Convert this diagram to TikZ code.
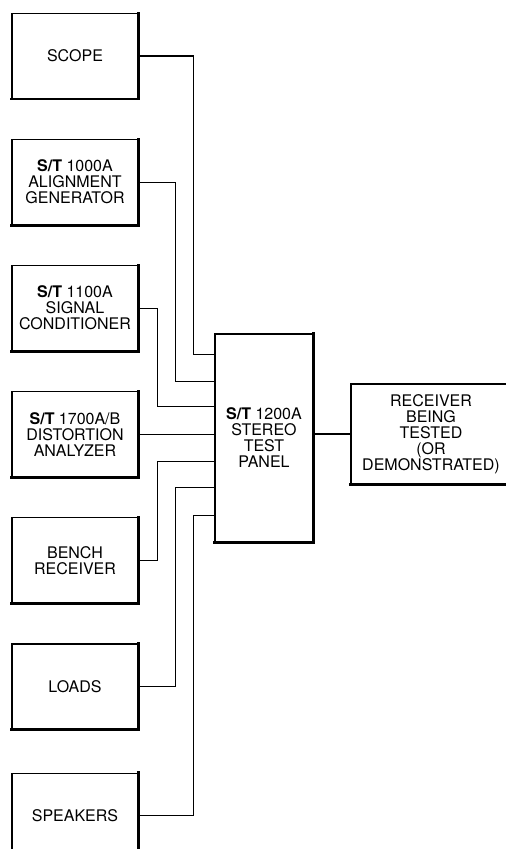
\documentclass[tikz,border=0pt]{standalone}
\usepackage{fontspec}
\setmainfont{TeX Gyre Heros}
\usetikzlibrary{positioning}

\begin{document}
\begin{tikzpicture}[
    x=1pt, y=-1pt,
    node distance=40pt and 38pt,
    unit/.style={rectangle, draw=black, line width=1.1pt, minimum width=126pt, minimum height=85pt, inner sep=0pt, align=center, font=\fontsize{16}{16}\selectfont},
    panelbox/.style={unit, minimum width=98pt, minimum height=208pt},
    dutbox/.style={unit, minimum width=160pt, minimum height=100pt},
    shade/.style={line width=2.8pt, line cap=rect},
    wire/.style={line width=1.1pt}
]
    \useasboundingbox (0,0) rectangle (506,849);

    % instruments on the left
    \node (scope) [unit] at (75,56) {SCOPE};
    \node (align) [unit, below=of scope] {\textbf{S/T} 1000A\\ALIGNMENT\\GENERATOR};
    \node (cond) [unit, below=of align] {\textbf{S/T} 1100A\\SIGNAL\\CONDITIONER};
    \node (dist) [unit, below=of cond] {\textbf{S/T} 1700A/B\\DISTORTION\\ANALYZER};
    \node (bench) [unit, below=of dist] {BENCH\\RECEIVER};
    \node (loads) [unit, below=of bench] {LOADS};
    \node (speakers) [unit, below=43pt of loads] {SPEAKERS};

    % test panel and receiver
    \node (panel) [panelbox] at (264,438) {\textbf{S/T} 1200A\\STEREO\\TEST\\PANEL};
    \node (dut) [dutbox] at (431,434) {RECEIVER\\BEING\\TESTED\\(OR\\DEMONSTRATED)};

    % heavy right and bottom edges
    \foreach \n in {scope, align, cond, dist, bench, loads, speakers, panel, dut}
        \draw [shade] (\n.north east) -- (\n.south east) -- (\n.south west);

    % inputs on the panel
    \foreach \i/\dy in {1/21, 2/48, 3/73, 5/128, 6/154, 7/182}
        \coordinate (p\i) at ([yshift=-\dy pt]panel.north west);

    \foreach \src/\dx/\i in {scope/55/1, align/37/2, cond/19/3, bench/19/5, loads/37/6, speakers/55/7}
        \draw [wire] (\src.east) -- ++(\dx,0) |- (p\i);
    \draw [wire] (dist.east) -- (panel.west |- dist.east);

    \draw [wire] (panel.east |- dut.west) -- (dut.west);
\end{tikzpicture}
\end{document}
